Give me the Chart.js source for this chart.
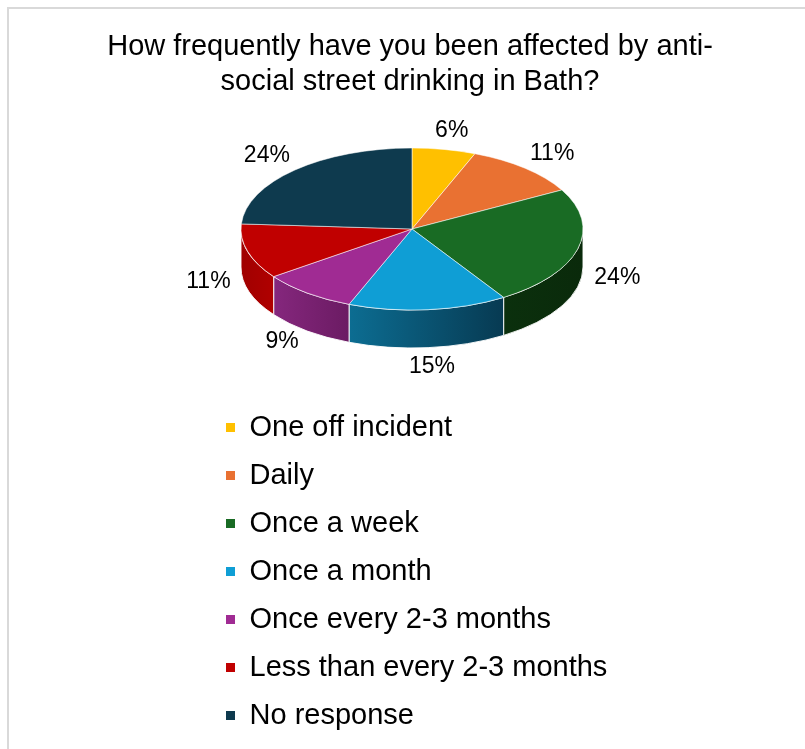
<!DOCTYPE html>
<html>
<head>
<meta charset="utf-8">
<script src="https://cdn.jsdelivr.net/npm/chart.js@4.4.1/dist/chart.umd.min.js"></script>
<style>
  html, body { margin: 0; padding: 0; background: #fff; overflow: hidden; }
  #frame { position: absolute; left: 7px; top: 7px; width: 830px; height: 780px; border-left: 2px solid #d9d9d9; border-top: 2px solid #d9d9d9; }
  #chart { position: absolute; left: 0; top: 0; }
</style>
</head>
<body>
<div id="frame"></div>
<canvas id="chart" width="805" height="749"></canvas>
<script>
const titleLines = ['How frequently have you been affected by anti-', 'social street drinking in Bath?'];
const categories = ['One off incident', 'Daily', 'Once a week', 'Once a month', 'Once every 2-3 months', 'Less than every 2-3 months', 'No response'];
const shares = [6, 11, 24, 15, 9, 11, 24];

const topColors = ['#ffc000', '#e97132', '#196b24', '#0f9ed5', '#a02b93', '#c00000', '#0e3a4e'];
// wall shading, left -> right
const sideColors = [
    ['#b38600', '#997300'],
    ['#a34f23', '#8c431e'],
    ['#0b300d', '#0a2a0b'],
    ['#0c6d92', '#073a52'],
    ['#85277d', '#6b1b63'],
    ['#a00000', '#b00000'],
    ['#09283a', '#09283a']
];

const FONT = '"Liberation Sans", Arial, sans-serif';

// where the tilted pie sits on the page
const pie = { cx: 412, cy: 229, rx: 171, ry: 81, depth: 38 };
const legendLeft = 207;

const tiltPlugin = {
    id: 'tilt',
    afterLayout(chart) {
        // the legend column sits under the pie, not at the page edge
        const lg = chart.legend;
        const dx = legendLeft - lg.left;
        lg.left += dx;
        lg.right += dx;
    },
    beforeDatasetsDraw(chart) {
        const ctx = chart.ctx;
        const arcs = chart.getDatasetMeta(0).data;
        const first = arcs[0];

        // outer walls, only the front half shows
        ctx.save();
        arcs.forEach((arc, i) => {
            const a = Math.max(arc.startAngle, 0);
            const b = Math.min(arc.endAngle, Math.PI);
            if (a >= b) return;
            const xRight = pie.cx + pie.rx * Math.cos(a);
            const xLeft = pie.cx + pie.rx * Math.cos(b);
            const grad = ctx.createLinearGradient(xLeft, 0, xRight, 0);
            grad.addColorStop(0, sideColors[i][0]);
            grad.addColorStop(1, sideColors[i][1]);
            ctx.beginPath();
            ctx.ellipse(pie.cx, pie.cy, pie.rx, pie.ry, 0, a, b);
            ctx.ellipse(pie.cx, pie.cy + pie.depth, pie.rx, pie.ry, 0, b, a, true);
            ctx.closePath();
            ctx.fillStyle = grad;
            ctx.fill();
            ctx.strokeStyle = 'rgba(255,255,255,0.9)';
            ctx.lineWidth = 1;
            ctx.stroke();
        });
        ctx.restore();

        // squash the flat pie into the top face
        ctx.save();
        ctx.translate(pie.cx, pie.cy);
        ctx.scale(pie.rx / first.outerRadius, pie.ry / first.outerRadius);
        ctx.translate(-first.x, -first.y);
    },
    afterDatasetsDraw(chart) {
        const ctx = chart.ctx;
        ctx.restore();

        const arcs = chart.getDatasetMeta(0).data;
        ctx.save();
        ctx.font = '23px ' + FONT;
        ctx.fillStyle = '#000';
        ctx.textAlign = 'center';
        ctx.textBaseline = 'middle';
        arcs.forEach((arc, i) => {
            const mid = (arc.startAngle + arc.endAngle) / 2;
            const c = Math.cos(mid), s = Math.sin(mid);
            const x = pie.cx + (pie.rx + 41) * c;
            const y = pie.cy + (pie.ry + 19) * s + (s > 0 ? pie.depth * (0.5 + 0.5 * s) : 0);
            ctx.fillText(shares[i] + '%', x, y);
        });
        ctx.restore();
    }
};

new Chart(document.getElementById('chart'), {
    type: 'pie',
    data: {
        labels: categories,
        datasets: [{
            data: shares,
            backgroundColor: topColors,
            borderColor: '#ffffff',
            borderWidth: 0.8,
            clip: false
        }]
    },
    options: {
        responsive: false,
        maintainAspectRatio: false,
        animation: false,
        events: [],
        layout: { padding: { left: 15, right: 0, top: 0, bottom: 0 } },
        plugins: {
            title: {
                display: true,
                text: titleLines,
                color: '#000',
                font: { family: FONT, size: 29, weight: 'normal' },
                padding: { top: 30, bottom: 10 }
            },
            legend: {
                position: 'left',
                align: 'end',
                maxWidth: 800,
                labels: {
                    color: '#000',
                    font: { family: FONT, size: 29 },
                    boxWidth: 9,
                    boxHeight: 9,
                    padding: 19,
                    generateLabels: () => categories.map((text, i) => ({
                        text,
                        fillStyle: topColors[i],
                        strokeStyle: topColors[i],
                        lineWidth: 0,
                        hidden: false,
                        index: i
                    }))
                }
            },
            tooltip: { enabled: false }
        }
    },
    plugins: [tiltPlugin]
});
</script>
</body>
</html>
